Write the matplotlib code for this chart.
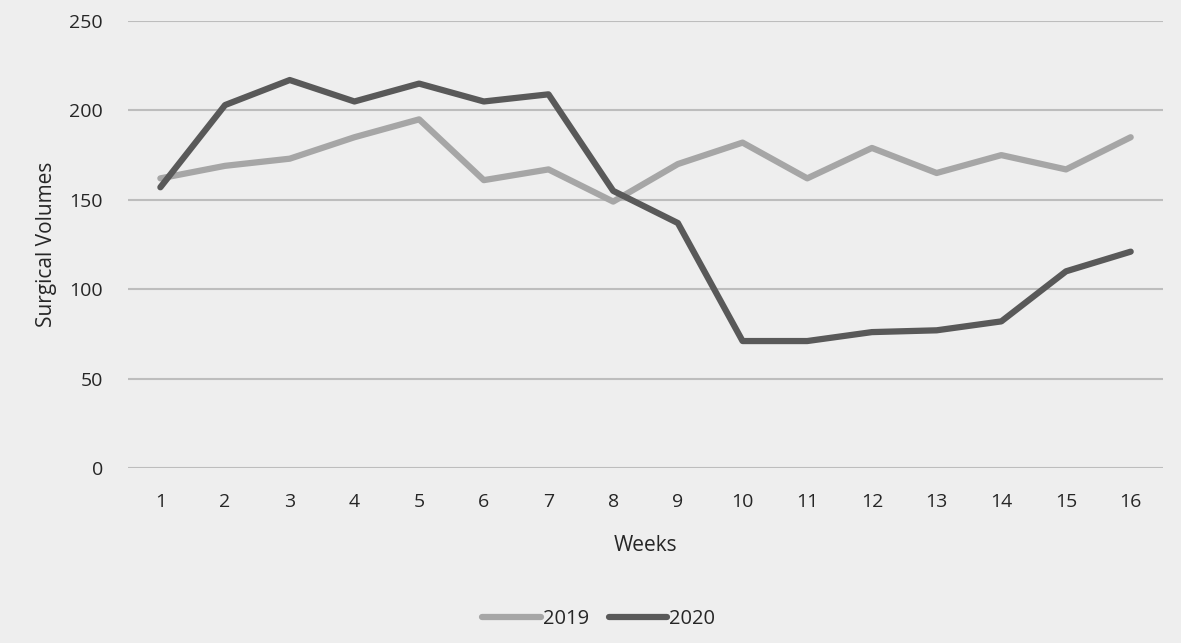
import matplotlib
matplotlib.use('Agg')
import matplotlib.pyplot as plt

# Data
weeks = list(range(1, 17))
vol_2019 = [162, 169, 173, 185, 195, 161, 167, 149, 170, 182, 162, 179, 165, 175, 167, 185]
vol_2020 = [157, 203, 217, 205, 215, 205, 209, 155, 137, 71, 71, 76, 77, 82, 110, 121]
yticks = [0, 50, 100, 150, 200, 250]

plt.rcParams['font.family'] = ['Open Sans', 'DejaVu Sans']
txt = '#262626'

fig = plt.figure(figsize=(11.81, 6.43), dpi=100)
fig.patch.set_facecolor('#eeeeee')
ax = fig.add_axes([0.1084, 0.2722, 0.8764, 0.6951])
ax.set_facecolor('#eeeeee')

ax.plot(weeks, vol_2019, color='#a6a6a6', lw=4.5, label='2019', solid_capstyle='round')
ax.plot(weeks, vol_2020, color='#595959', lw=4.5, label='2020', solid_capstyle='round')

ax.set_xlim(0.5, 16.5)
ax.set_ylim(0, 250)
ax.set_xticks(weeks)
ax.set_yticks(yticks)
ax.grid(axis='y', color='#bdbdbd', lw=1.5)
ax.set_axisbelow(True)
for s in ax.spines.values():
    s.set_visible(False)
ax.tick_params(length=0, labelsize=14, colors=txt)
ax.tick_params(axis='x', pad=18)
ax.tick_params(axis='y', pad=18)

ax.set_xlabel('Weeks', fontsize=15, color=txt, labelpad=17)
ax.set_ylabel('Surgical Volumes', fontsize=15, color=txt, labelpad=9)

fig.legend(loc='center', bbox_to_anchor=(0.507, 0.038), ncol=2, frameon=False,
           fontsize=14.5, handlelength=2.9, columnspacing=1.0, handletextpad=0.1,
           labelcolor=txt)

fig.savefig('out.png', dpi=100, facecolor=fig.get_facecolor())
